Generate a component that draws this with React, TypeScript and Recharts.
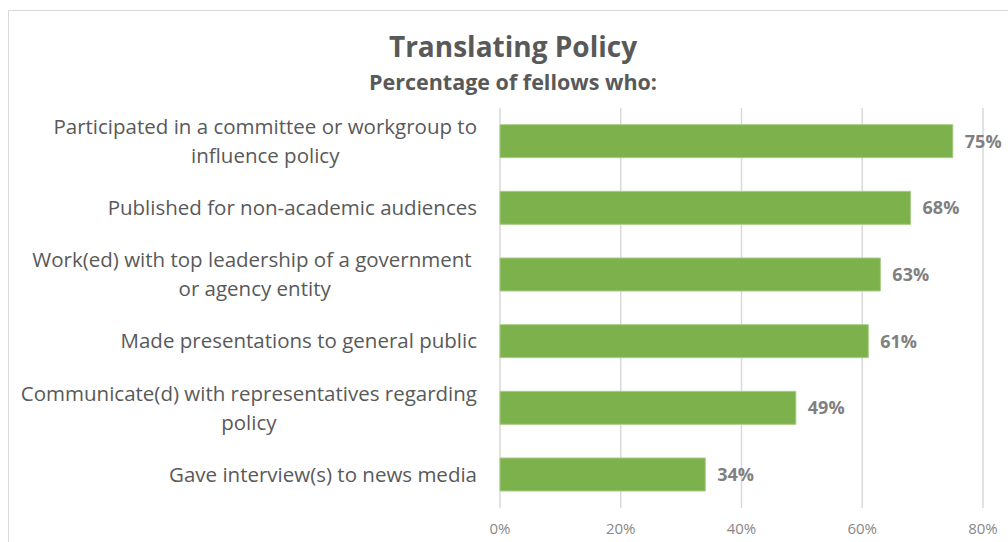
import React from "react";
import { BarChart, Bar, XAxis, YAxis, CartesianGrid, LabelList } from "recharts";

const categories = [
  "Participated in a committee or workgroup to\ninfluence policy",
  "Published for non-academic audiences",
  "Work(ed) with top leadership of a government \nor agency entity",
  "Made presentations to general public",
  "Communicate(d) with representatives regarding\npolicy",
  "Gave interview(s) to news media",
];
const percentages = [75, 68, 63, 61, 49, 34];
const xTicks = [0, 20, 40, 60, 80];

const FONT = "'Open Sans', 'Noto Sans', sans-serif";
const LABEL_SIZE = 20.5;

let ctx: CanvasRenderingContext2D | null = null;
const measure = (s: string) => {
  if (!ctx) ctx = document.createElement("canvas").getContext("2d");
  if (!ctx) return s.length * 9;
  ctx.font = `${LABEL_SIZE}px 'Open Sans'`;
  return ctx.measureText(s).width;
};

const CategoryTick = (props: any) => {
  const { x, y, payload } = props;
  const lines: string[] = String(payload.value).split("\n");
  const right = x - 23;
  if (lines.length === 1) {
    return (
      <text x={right} y={y} dy={7} textAnchor="end" fontSize={LABEL_SIZE} fill="#595959" fontFamily={FONT}>
        {lines[0]}
      </text>
    );
  }
  const maxW = Math.max(...lines.map(measure));
  const cx = right - maxW / 2;
  const lh = 29;
  return (
    <text x={cx} y={y} textAnchor="middle" fontSize={LABEL_SIZE} fill="#595959" fontFamily={FONT}>
      {lines.map((l, i) => (
        <tspan key={i} x={cx} y={y + 7 + (i - (lines.length - 1) / 2) * lh}>
          {l}
        </tspan>
      ))}
    </text>
  );
};

const App = () => {
  const data = categories.map((name, i) => ({ name, value: percentages[i] }));
  return (
    <div style={{ position: "absolute", left: 0, top: 0, width: 1008, height: 542, background: "#fff", overflow: "hidden" }}>
      <div style={{ position: "absolute", left: 8, top: 10, width: 1100, height: 600, border: "1px solid #d9d9d9" }} />
      <div style={{ position: "absolute", left: 0, top: 27, width: 1026, textAlign: "center", fontFamily: FONT, fontWeight: 700, fontSize: 28, lineHeight: "38px", color: "#595959" }}>
        Translating Policy
      </div>
      <div style={{ position: "absolute", left: 0, top: 67, width: 1026, textAlign: "center", fontFamily: FONT, fontWeight: 700, fontSize: 21.5, lineHeight: "29px", color: "#595959" }}>
        Percentage of fellows who:
      </div>
      <div style={{ position: "absolute", left: 0, top: 0 }}>
        <BarChart
          width={1008}
          height={542}
          data={data}
          layout="vertical"
          margin={{ top: 108, right: 25, bottom: 0, left: 10 }}
          barCategoryGap="25%"
        >
          <CartesianGrid horizontal={false} stroke="#d9d9d9" strokeWidth={1.5} />
          <XAxis
            type="number"
            domain={[0, 80]}
            ticks={xTicks}
            height={34}
            tickFormatter={(v) => `${v}%`}
            axisLine={false}
            tickLine={false}
            tickMargin={9}
            tick={{ fontSize: 15, fill: "#888888", fontFamily: FONT }}
          />
          <YAxis
            type="category"
            dataKey="name"
            width={490}
            axisLine={false}
            tickLine={false}
            tickSize={0}
            tickMargin={0}
            interval={0}
            tick={<CategoryTick />}
          />
          <Bar dataKey="value" fill="#7cb14c" stroke="#a6cc86" strokeWidth={1} isAnimationActive={false}>
            <LabelList
              dataKey="value"
              position="right"
              offset={12}
              formatter={(v: any) => `${v}%`}
              style={{ fontSize: 18, fontWeight: 700, fill: "#808080", fontFamily: FONT }}
            />
          </Bar>
        </BarChart>
      </div>
    </div>
  );
};

export default App;
